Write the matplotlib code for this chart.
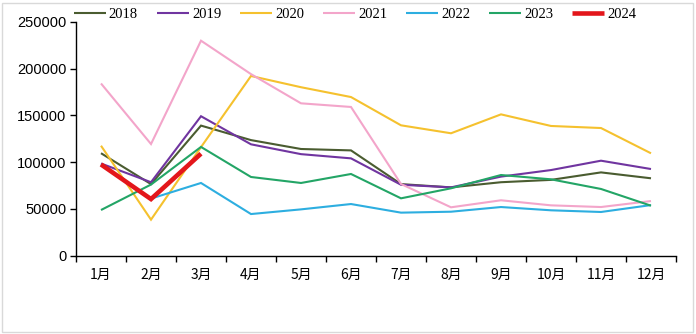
import matplotlib
matplotlib.use("Agg")
import matplotlib.pyplot as plt
from matplotlib.patches import Rectangle
import numpy as np

months = ["1月", "2月", "3月", "4月", "5月", "6月", "7月", "8月", "9月", "10月", "11月", "12月"]

v2018 = [109500, 76500, 139000, 123500, 114000, 112500, 76500, 73000, 78500, 81000, 89000, 82700]
v2019 = [98500, 78500, 149000, 119000, 108500, 104000, 75800, 73000, 84500, 91500, 101500, 92600]
v2020 = [117500, 38500, 116000, 192000, 180000, 169500, 139300, 130800, 151000, 138600, 136400, 109400]
v2021 = [184000, 119300, 229700, 194000, 162800, 158900, 76600, 51700, 59200, 53800, 52000, 58400]
v2022 = [97500, 61000, 77700, 44500, 49500, 55200, 46000, 47000, 52000, 48500, 46700, 54100]
v2023 = [48800, 76000, 116200, 84100, 77700, 87300, 61300, 72000, 86200, 81600, 71300, 53400]
v2024 = [97500, 60500, 109000]

series = [
    ("2018", v2018, "#4A5C30", 1.5),
    ("2019", v2019, "#7035A0", 1.5),
    ("2020", v2020, "#F5C12E", 1.5),
    ("2021", v2021, "#F3A5CA", 1.5),
    ("2022", v2022, "#2DAEE0", 1.5),
    ("2023", v2023, "#23A566", 1.5),
    ("2024", v2024, "#E3161B", 3.3),
]

fig = plt.figure(figsize=(6.96, 3.34), dpi=100)
ax = fig.add_axes([76 / 696, 1 - 255.7 / 334, 600 / 696, (255.7 - 21.7) / 334])

for name, vals, color, lw in series:
    ax.plot(np.arange(len(vals)), vals, color=color, lw=lw, label=name,
            solid_capstyle="butt", solid_joinstyle="miter")

ax.set_xlim(-0.5, 11.5)
ax.set_ylim(0, 250000)
ax.set_yticks(np.arange(0, 250001, 50000))
ax.set_xticks(np.arange(12))
ax.set_xticklabels(months, fontfamily=["Noto Sans CJK SC", "DejaVu Sans"], fontsize=10)
ax.set_xticks(np.arange(-0.5, 12, 1), minor=True)
ax.tick_params(axis="x", which="major", length=0, pad=9)
ax.tick_params(axis="x", which="minor", length=4, width=1, direction="out")
ax.tick_params(axis="y", length=4, width=1, direction="out", pad=3)
for lab in ax.get_yticklabels():
    lab.set_fontfamily("Liberation Sans")
    lab.set_fontsize(10.5)

for s in ["top", "right"]:
    ax.spines[s].set_visible(False)
for s in ["left", "bottom"]:
    ax.spines[s].set_linewidth(1)
    ax.spines[s].set_color("black")

leg = fig.legend(loc="center", bbox_to_anchor=(355 / 696, 1 - 14 / 334), ncol=7,
                 frameon=False, handlelength=2.2, handletextpad=0.2, columnspacing=1.3,
                 prop={"family": "Liberation Serif", "size": 10.5}, borderaxespad=0)

fig.patches.append(Rectangle((2 / 696, 2 / 334), 691 / 696, 329 / 334, transform=fig.transFigure,
                             fill=False, edgecolor="#D9D9D9", lw=1))

fig.savefig("out.png", dpi=100)
